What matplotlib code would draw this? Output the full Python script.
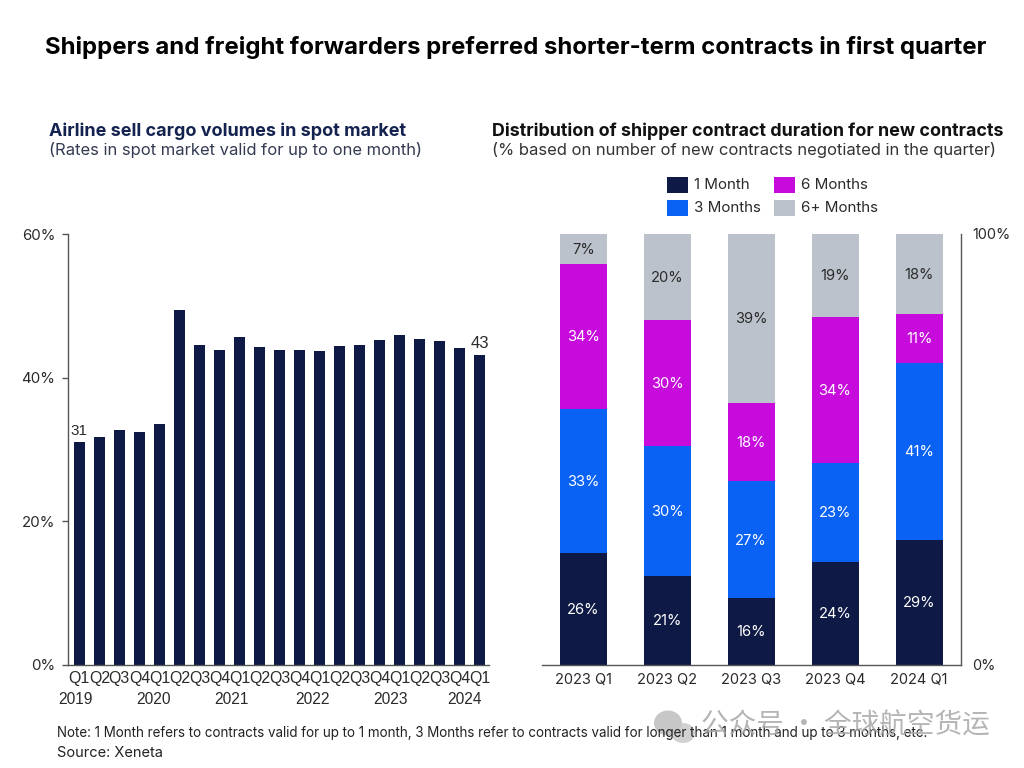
import matplotlib
matplotlib.use("Agg")
import matplotlib.pyplot as plt
from matplotlib.patches import Ellipse, Rectangle

plt.rcParams['font.family'] = ['Inter', 'DejaVu Sans']

# left chart, spot market share by quarter
quarters = ['Q1','Q2','Q3','Q4','Q1','Q2','Q3','Q4','Q1','Q2','Q3','Q4','Q1','Q2','Q3','Q4','Q1','Q2','Q3','Q4','Q1']
spot_share = [31.1,31.7,32.7,32.5,33.5,49.4,44.5,43.9,45.6,44.2,43.9,43.8,43.7,44.4,44.6,45.2,46.0,45.4,45.1,44.1,43.2]
years = ['2019','2020','2021','2022','2023','2024']
year_pos = [-0.2,3.7,7.6,11.65,15.55,19.25]
left_ticks = [0,20,40,60]

# right chart, contract duration
periods = ['2023 Q1','2023 Q2','2023 Q3','2023 Q4','2024 Q1']
one_month = [26.0,20.6,15.5,23.9,29.0]
three_months = [33.4,30.2,27.1,23.0,41.1]
six_months = [33.6,29.2,18.3,33.9,11.4]
six_plus = [7.0,20.0,39.1,19.2,18.5]
one_month_lbl = [26,21,16,24,29]
three_months_lbl = [33,30,27,23,41]
six_months_lbl = [34,30,18,34,11]
six_plus_lbl = [7,20,39,19,18]

NAVY = '#0e1a45'
BLUE = '#0a62f5'
MAGENTA = '#c60bdc'
GRAY = '#bcc2cc'
AXIS = '#555555'
TEXT = '#2a2a2a'

W, H = 1024, 768
fig = plt.figure(figsize=(W/100, H/100), dpi=100, facecolor='white')

def fx(x): return x/W
def fy(y): return 1-y/H
def px(x0, y0, x1, y1):
    return [fx(x0), fy(y1), (x1-x0)/W, (y1-y0)/H]
def ptext(x, y, s, size, **kw):
    kw.setdefault('va', 'center')
    kw.setdefault('color', TEXT)
    fig.text(fx(x), fy(y), s, fontsize=size, **kw)

# left chart
ax = fig.add_axes(px(68, 234, 489, 665))
xs = list(range(len(spot_share)))
ax.bar(xs, spot_share, width=0.55, color=NAVY)
ax.set_xlim(-0.565, 20.46)
ax.set_ylim(0, 60)
ax.set_yticks(left_ticks)
ax.set_yticklabels([f'{t}%' for t in left_ticks], fontsize=10.8, color=TEXT)
ax.tick_params(axis='y', length=4, width=1, color=AXIS, pad=5)
ax.set_xticks(xs)
ax.set_xticklabels(quarters, fontsize=11.4, color=TEXT, family='Liberation Sans')
ax.tick_params(axis='x', length=0, pad=4)
for s in ['top', 'right']:
    ax.spines[s].set_visible(False)
for s in ['left', 'bottom']:
    ax.spines[s].set_color(AXIS)
    ax.spines[s].set_linewidth(1)
ax.text(xs[0], spot_share[0]+0.5, '31', ha='center', va='bottom', fontsize=11, color=TEXT, family='Liberation Sans')
ax.text(xs[-1], spot_share[-1]+0.5, '43', ha='center', va='bottom', fontsize=12, color=TEXT, family='Liberation Sans')
for p, y in zip(year_pos, years):
    ax.annotate(y, (p, 0), xytext=(0, -25), textcoords='offset points', ha='center', va='center',
                fontsize=11.2, color=TEXT, family='Liberation Sans', annotation_clip=False)

# right chart
ax2 = fig.add_axes(px(542, 234, 961, 665))
xr = list(range(len(periods)))
series = [(one_month, one_month_lbl, NAVY, 'white', '1 Month'),
          (three_months, three_months_lbl, BLUE, 'white', '3 Months'),
          (six_months, six_months_lbl, MAGENTA, 'white', '6 Months'),
          (six_plus, six_plus_lbl, GRAY, TEXT, '6+ Months')]
bottom = [0]*len(periods)
for vals, lbls, col, tcol, name in series:
    ax2.bar(xr, vals, width=0.56, bottom=bottom, color=col, label=name)
    for i, v in enumerate(vals):
        ax2.text(i, bottom[i]+v/2-0.2, f'{lbls[i]}%', ha='center', va='center', fontsize=10.6, color=tcol)
    bottom = [b+v for b, v in zip(bottom, vals)]
ax2.set_xlim(-0.49, 4.5)
ax2.set_ylim(0, 100)
ax2.set_xticks(xr)
ax2.set_xticklabels(periods, fontsize=10.5, color=TEXT)
ax2.tick_params(axis='x', length=0, pad=6)
ax2.yaxis.tick_right()
ax2.set_yticks([0, 100])
ax2.set_yticklabels(['0%', '100%'], fontsize=10.4, color=TEXT)
ax2.tick_params(axis='y', length=0, pad=8)
for s in ['top', 'left']:
    ax2.spines[s].set_visible(False)
for s in ['right', 'bottom']:
    ax2.spines[s].set_color(AXIS)
    ax2.spines[s].set_linewidth(1)

# legend is laid out by hand, column order differs from the stacking
leg = [(667, 185, NAVY, '1 Month'), (667, 208, BLUE, '3 Months'),
       (774, 185, MAGENTA, '6 Months'), (774, 208, GRAY, '6+ Months')]
for x, y, col, name in leg:
    fig.add_artist(Rectangle((fx(x), fy(y+8)), 21/W, 16/H, transform=fig.transFigure, color=col, lw=0))
    ptext(x+27, y, name, 10.9)

# titles
ptext(516, 47.5, 'Shippers and freight forwarders preferred shorter-term contracts in first quarter',
      17.25, ha='center', weight='bold', color='black')
ptext(49, 131.5, 'Airline sell cargo volumes in spot market', 12.95, weight='bold', color='#14224f')
ptext(49, 149.5, '(Rates in spot market valid for up to one month)', 11.95, color='#333a52')
ptext(492, 131.5, 'Distribution of shipper contract duration for new contracts', 12.9, weight='bold', color='#111111')
ptext(492, 149.5, '(% based on number of new contracts negotiated in the quarter)', 11.95, color='#333333')

# footnotes
ptext(57, 733, 'Note: 1 Month refers to contracts valid for up to 1 month, 3 Months refer to contracts valid for longer than 1 month and up to 3 months, etc.',
      9.65, color='#222222')
ptext(57, 753, 'Source: Xeneta', 10.5, color='#222222')

# watermark
fig.add_artist(Ellipse((fx(668), fy(723)), 28/W, 25/H, transform=fig.transFigure, color='#bdbdbd', lw=0, alpha=0.85))
fig.add_artist(Ellipse((fx(683), fy(733)), 24/W, 20/H, transform=fig.transFigure, color='#c9c9c9', lw=0, alpha=0.85))
ptext(701, 726, '公众号 · 全球航空货运', 19.9, family=['Noto Sans CJK SC', 'DejaVu Sans'], color='#a8a8a8', alpha=0.85)

fig.savefig('out.png', dpi=100)
